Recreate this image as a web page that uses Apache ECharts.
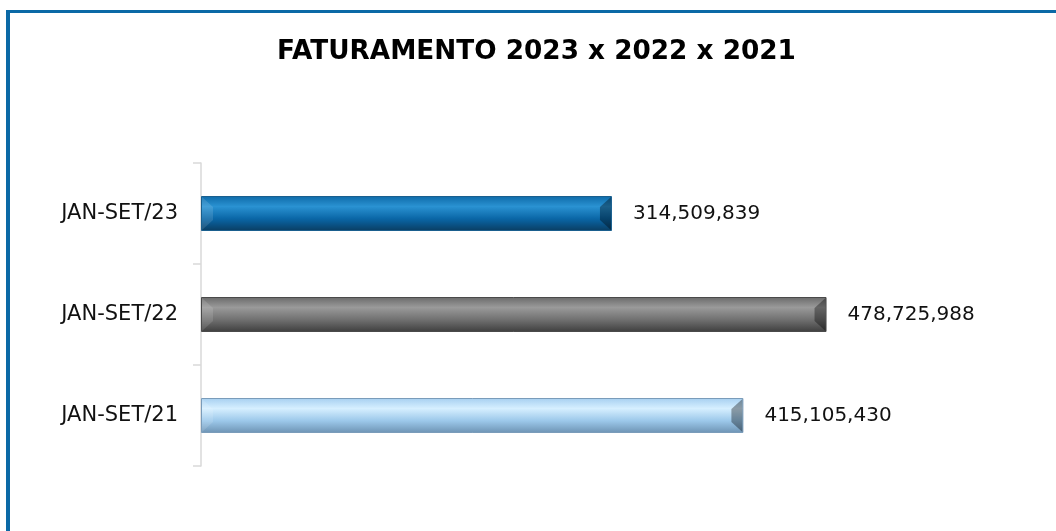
<!DOCTYPE html>
<html>
<head>
<meta charset="utf-8">
<script src="https://cdn.jsdelivr.net/npm/echarts@6/dist/echarts.min.js"></script>
<style>
html,body{margin:0;padding:0;background:#fff;}
#main{width:1056px;height:531px;}
</style>
</head>
<body>
<div id="main"></div>
<script>
const categories = ['JAN-SET/23', 'JAN-SET/22', 'JAN-SET/21'];
const values = [314509839, 478725988, 415105430];
const titleText = 'FATURAMENTO 2023 x 2022 x 2021';

function grad(top, light, mid, dark) {
  return new echarts.graphic.LinearGradient(0, 0, 0, 1, [
    {offset: 0, color: top},
    {offset: 0.3, color: light},
    {offset: 0.65, color: mid},
    {offset: 1, color: dark}
  ]);
}
const styles = [
  {color: grad('#0e6aa8', '#2a92d2', '#0a66a6', '#0a3d62'), borderColor: '#1a5f8e'},
  {color: grad('#6a6a6a', '#9a9a9a', '#707070', '#3e3e3e'), borderColor: '#4a4a4a'},
  {color: grad('#a6cff0', '#d6efff', '#9cc8ea', '#6d93b3'), borderColor: '#7a9cba'}
];
const BAR_H = 35;

const chart = echarts.init(document.getElementById('main'));
chart.setOption({
  animation: false,
  backgroundColor: '#fff',
  title: {
    text: titleText,
    left: 277,
    top: 39,
    padding: 0,
    textStyle: {fontFamily: 'DejaVu Sans', fontWeight: 'bold', fontSize: 26.3, color: '#000'}
  },
  graphic: [
    {type: 'rect', shape: {x: 6, y: 10, width: 1050, height: 3}, style: {fill: '#0b69a6'}},
    {type: 'rect', shape: {x: 6, y: 10, width: 4, height: 521}, style: {fill: '#0b69a6'}}
  ],
  grid: {left: 201, right: 71, top: 163, bottom: 65},
  xAxis: {type: 'value', min: 0, max: 600000000, show: false},
  yAxis: {
    type: 'category',
    data: categories,
    inverse: true,
    axisLine: {show: true, lineStyle: {color: '#d9d9d9', width: 1.5}},
    axisTick: {show: true, length: 8, lineStyle: {color: '#d9d9d9', width: 1.5}},
    axisLabel: {margin: 23, fontFamily: 'DejaVu Sans', fontSize: 21, color: '#111'},
    splitLine: {show: false}
  },
  series: [{
    type: 'bar',
    barWidth: BAR_H,
    data: values.map((v, i) => ({value: v, itemStyle: {color: styles[i].color, borderColor: styles[i].borderColor, borderWidth: 1}})),
    label: {
      show: true,
      position: 'right',
      distance: 21,
      fontFamily: 'DejaVu Sans',
      fontSize: 20,
      color: '#111',
      formatter: p => p.value.toLocaleString('en-US')
    }
  }, {
    type: 'custom',
    silent: true,
    z: 5,
    data: values.map((v, i) => [v, i]),
    renderItem: function (params, api) {
      const end = api.coord([api.value(0), api.value(1)]);
      const start = api.coord([0, api.value(1)]);
      const h = BAR_H, b = 11;
      const y0 = end[1] - h / 2, y1 = end[1] + h / 2;
      const x0 = start[0] + 1, x1 = end[0] - 1;
      return {
        type: 'group',
        children: [
          {type: 'polygon', shape: {points: [[x1, y0 + 1], [x1, y1 - 1], [x1 - b, y1 - b], [x1 - b, y0 + b]]},
            style: {fill: 'rgba(0,0,0,0.35)'}},
          {type: 'polygon', shape: {points: [[x0, y0 + 1], [x0 + b, y0 + b], [x0 + b, y1 - b], [x0, y1 - 1]]},
            style: {fill: 'rgba(255,255,255,0.12)'}}
        ]
      };
    }
  }]
});
</script>
</body>
</html>
